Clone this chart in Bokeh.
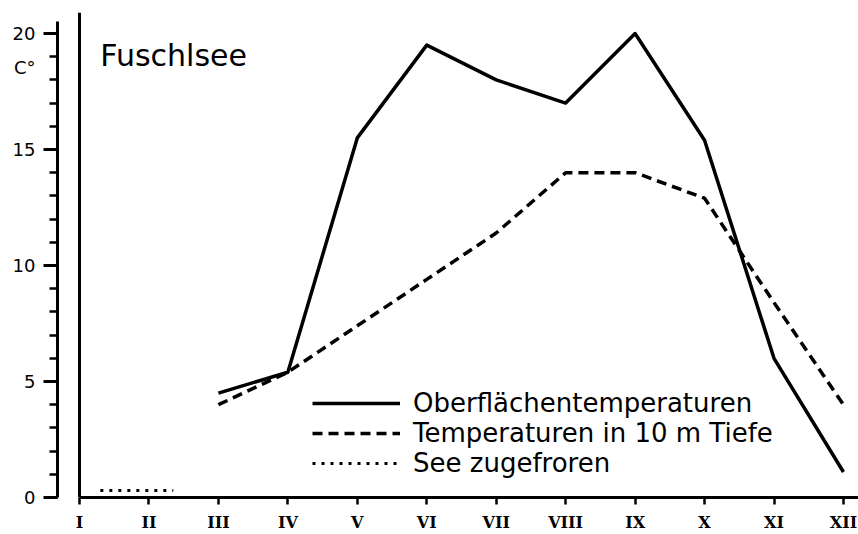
from bokeh.plotting import figure
from bokeh.models import (Span, Label, Legend, LegendItem, FixedTicker,
                          Range1d, LinearAxis)
from bokeh.embed import file_html
from bokeh.resources import INLINE

# ---- data ----
months = [1, 2, 3, 4, 5, 6, 7, 8, 9, 10, 11, 12]
month_labels = ["I", "II", "III", "IV", "V", "VI", "VII", "VIII", "IX", "X", "XI", "XII"]
measured_months = [3, 4, 5, 6, 7, 8, 9, 10, 11, 12]
surface_temp = [4.5, 5.4, 15.5, 19.5, 18.0, 17.0, 20.0, 15.4, 6.0, 1.1]
depth10m_temp = [4.0, 5.4, 7.4, 9.4, 11.4, 14.0, 14.0, 12.9, 8.4, 4.0]
frozen_months = [1.3, 2.35]
frozen_level = [0.3, 0.3]
y_ticks = [0, 5, 10, 15, 20]
y_minor = list(range(0, 21))
unit_label = "C°"
unit_label_pos = 18.53

FONT = "DejaVu Sans"

p = figure(width=858, height=534,
           x_range=Range1d(0.6832, 12.2167), y_range=Range1d(0, 20.905),
           output_backend="svg", toolbar_location=None,
           min_border_left=57, min_border_right=0,
           min_border_top=12, min_border_bottom=37)
p.grid.visible = False
p.outline_line_color = None
p.background_fill_color = "white"
p.border_fill_color = "white"

# y axis: tick marks only (labels drawn by the outer axis)
ya = p.yaxis[0]
ya.ticker = FixedTicker(ticks=y_ticks, minor_ticks=y_minor)
ya.major_label_overrides = {t: "" for t in y_ticks}
ya.bounds = (0, 20.5)
ya.axis_line_width = 3
ya.major_tick_in = 0
ya.major_tick_out = 14
ya.minor_tick_in = 0
ya.minor_tick_out = 8
ya.major_tick_line_width = 3
ya.minor_tick_line_width = 2.5
ya.major_label_standoff = 0

# outer y axis: tick labels and unit
label_ticks = y_ticks + [unit_label_pos]
overrides = {t: str(t) for t in y_ticks}
overrides[unit_label_pos] = unit_label
ya2 = LinearAxis(ticker=FixedTicker(ticks=label_ticks, minor_ticks=[]),
                 major_label_overrides=overrides,
                 axis_line_color=None, major_tick_line_color=None,
                 minor_tick_line_color=None, major_tick_in=0,
                 major_tick_out=0, minor_tick_in=0, minor_tick_out=0,
                 major_label_standoff=8, major_label_text_font=FONT,
                 major_label_text_font_size="18px",
                 major_label_text_color="black")
p.add_layout(ya2, "left")

# x axis (months)
xa = p.xaxis[0]
xa.ticker = FixedTicker(ticks=months, minor_ticks=[])
xa.major_label_overrides = {m: lab for m, lab in zip(months, month_labels)}
xa.bounds = (1, 12.2167)
xa.axis_line_width = 3
xa.major_tick_in = 0
xa.major_tick_out = 7
xa.major_tick_line_width = 2.5
xa.major_label_standoff = 8
xa.major_label_text_font = "DejaVu Serif"
xa.major_label_text_font_style = "bold"
xa.major_label_text_font_size = "16px"
xa.major_label_text_color = "black"

# left frame line at January
p.add_layout(Span(location=months[0], dimension="height",
                  line_color="black", line_width=3))

r_surf = p.line(measured_months, surface_temp, line_color="black",
                line_width=3.5, line_join="round")
r_depth = p.line(measured_months, depth10m_temp, line_color="black",
                 line_width=3.5, line_dash="10 6")
r_frozen = p.line(frozen_months, frozen_level, line_color="black",
                  line_width=3, line_dash="3 6")

legend = Legend(items=[
    LegendItem(label="Oberflächentemperaturen", renderers=[r_surf]),
    LegendItem(label="Temperaturen in 10 m Tiefe", renderers=[r_depth]),
    LegendItem(label="See zugefroren", renderers=[r_frozen]),
], location=(255, 19), glyph_width=88, glyph_height=24, label_height=24,
    spacing=0, label_standoff=13, label_text_font=FONT,
    label_text_font_size="26px", label_text_color="black",
    border_line_color=None, background_fill_alpha=0, margin=0, padding=0)
p.add_layout(legend)

p.add_layout(Label(x=1.30, y=19.05, text="Fuschlsee",
                   text_font=FONT, text_font_size="30px",
                   text_color="black", text_baseline="alphabetic"))

open("out.html", "w").write(file_html(p, INLINE))
